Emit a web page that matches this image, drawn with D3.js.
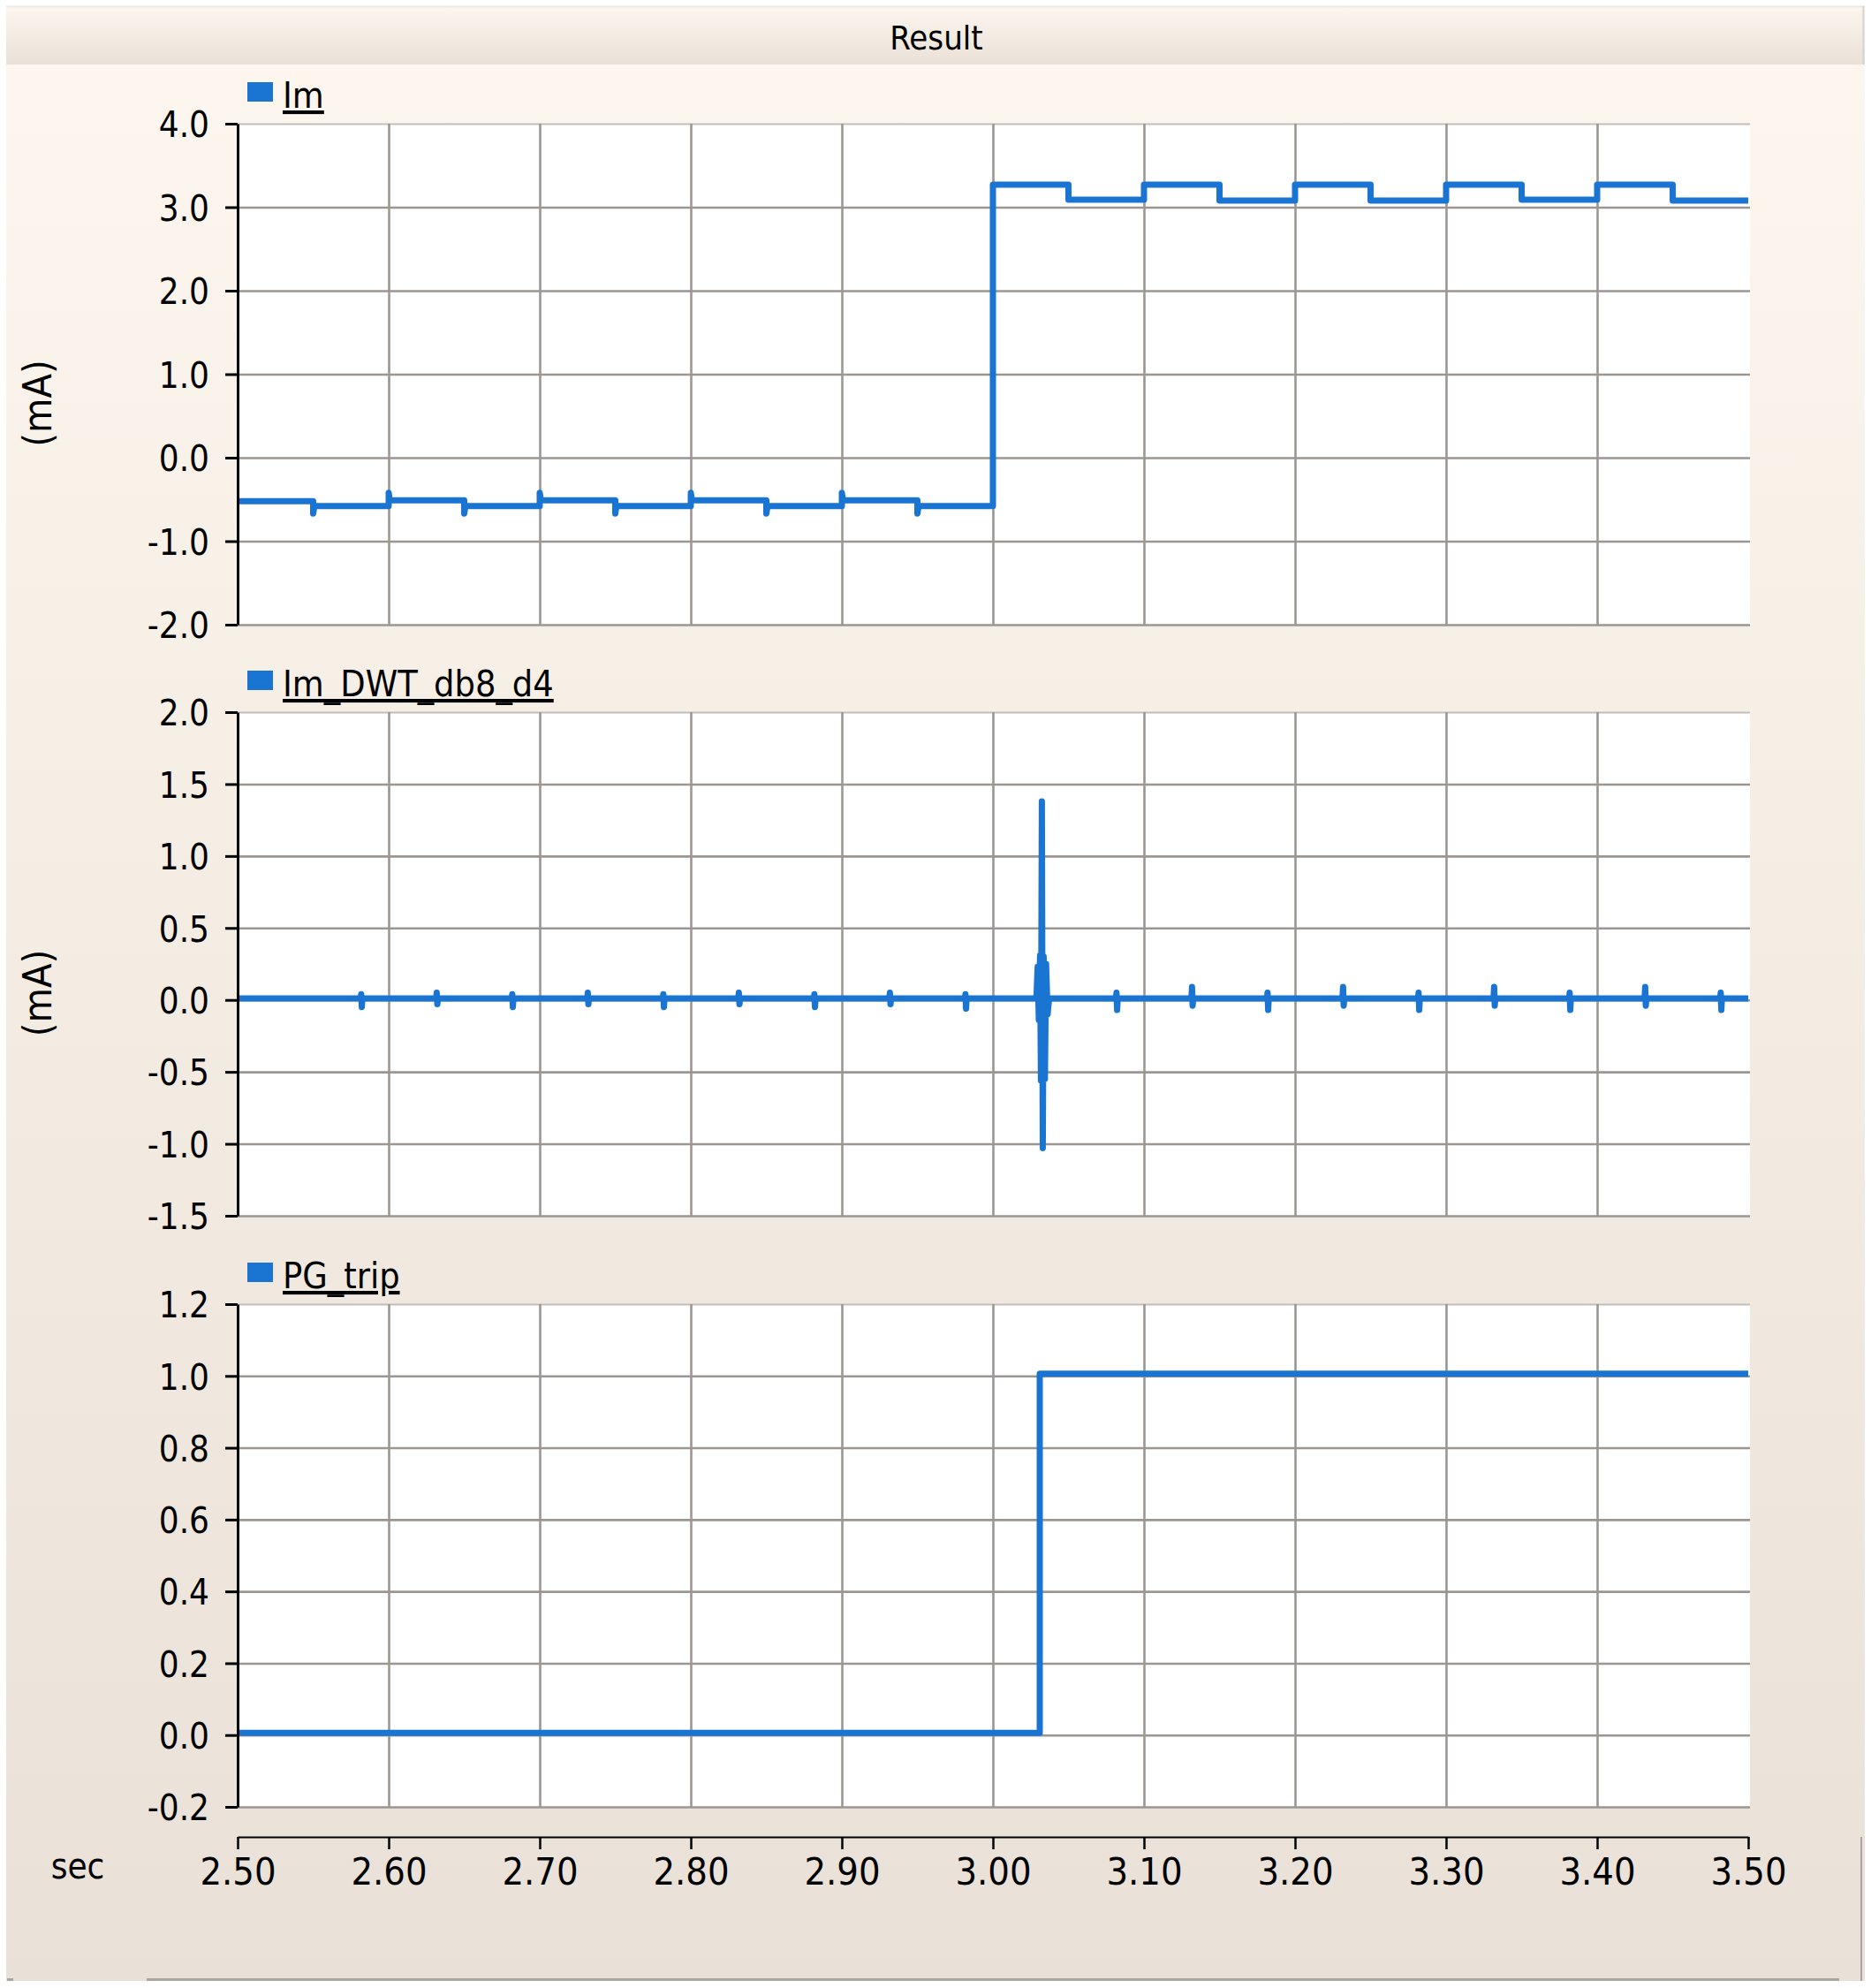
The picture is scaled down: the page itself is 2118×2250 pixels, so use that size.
<!DOCTYPE html>
<html>
<head>
<meta charset="utf-8">
<script src="https://cdn.jsdelivr.net/npm/d3@7"></script>
<style>
  html, body { margin: 0; padding: 0; background: #ffffff; }
  svg { display: block; }
  text { font-family: "DejaVu Sans", sans-serif; font-stretch: condensed; fill: #000; }
</style>
</head>
<body>
<svg id="chart" width="2118" height="2250"></svg>
<script>
// ---------------- DATA ----------------
const chartTitle = "Result";
const xUnit = "sec";
const timeTicks = [2.5, 2.6, 2.7, 2.8, 2.9, 3.0, 3.1, 3.2, 3.3, 3.4, 3.5];
const timeTickLabels = ["2.50","2.60","2.70","2.80","2.90","3.00","3.10","3.20","3.30","3.40","3.50"];

// Panel 1: Im (mA) - step signal
const imName = "Im";
const imTicks = [-2, -1, 0, 1, 2, 3, 4];
const imTickLabels = ["-2.0","-1.0","0.0","1.0","2.0","3.0","4.0"];
const imEdges = [2.50, 2.55, 2.60, 2.65, 2.70, 2.75, 2.80, 2.85, 2.90, 2.95, 3.00,
                 3.05, 3.10, 3.15, 3.20, 3.25, 3.30, 3.35, 3.40, 3.45, 3.50];
const imLevels = [-0.52, -0.58, -0.51, -0.58, -0.51, -0.58, -0.51, -0.58, -0.51, -0.58,
                  3.27, 3.09, 3.27, 3.08, 3.27, 3.08, 3.27, 3.09, 3.27, 3.08];
// overshoot value reached at each inner edge (null = none)
const imOvershoot = [-0.67, -0.42, -0.67, -0.42, -0.67, -0.42, -0.67, -0.42, -0.67, null,
                     null, null, null, null, null, null, null, null, null];

// Panel 2: Im_DWT_db8_d4 (mA)
const dwtName = "Im_DWT_db8_d4";
const dwtTicks = [-1.5, -1.0, -0.5, 0.0, 0.5, 1.0, 1.5, 2.0];
const dwtTickLabels = ["-1.5","-1.0","-0.5","0.0","0.5","1.0","1.5","2.0"];
const dwtBase = 0.01;
const dwtSpikeT = [2.582, 2.632, 2.682, 2.732, 2.782, 2.832, 2.882, 2.932, 2.982,
                   3.082, 3.132, 3.182, 3.232, 3.282, 3.332, 3.382, 3.432, 3.482];
const dwtSpikeUp = [0.04, 0.05, 0.04, 0.05, 0.04, 0.05, 0.04, 0.05, 0.04,
                    0.05, 0.09, 0.05, 0.09, 0.05, 0.09, 0.05, 0.09, 0.05];
const dwtSpikeDown = [-0.05, -0.03, -0.05, -0.03, -0.05, -0.03, -0.05, -0.03, -0.06,
                      -0.07, -0.04, -0.07, -0.04, -0.07, -0.04, -0.07, -0.04, -0.07];
const dwtBurstT = [3.0288, 3.0296, 3.0304, 3.0312, 3.0318, 3.0324, 3.0330, 3.0336, 3.0344, 3.0352, 3.0362, 3.0372];
const dwtBurstV = [0.01, 0.23, -0.14, 0.31, -0.56, 1.38, -1.03, 0.30, -0.55, 0.25, -0.10, 0.01];

// Panel 3: PG_trip
const tripName = "PG_trip";
const tripTicks = [-0.2, 0.0, 0.2, 0.4, 0.6, 0.8, 1.0, 1.2];
const tripTickLabels = ["-0.2","0.0","0.2","0.4","0.6","0.8","1.0","1.2"];
const tripT = [2.50, 3.031, 3.50];
const tripV = [0.006, 1.006, 1.006];

const yUnit = "(mA)";

// ---------------- LAYOUT ----------------
const W = 2118, H = 2250;
const plotL = 269, plotR = 1981;
const lineColor = "#1a75d2";
const gridColor = "#9b9692";
const panels = [
  { name: imName, top: 140, bottom: 707, domain: [-2, 4], ticks: imTicks, labels: imTickLabels, unit: yUnit },
  { name: dwtName, top: 806, bottom: 1376, domain: [-1.5, 2], ticks: dwtTicks, labels: dwtTickLabels, unit: yUnit },
  { name: tripName, top: 1476, bottom: 2045, domain: [-0.2, 1.2], ticks: tripTicks, labels: tripTickLabels, unit: null }
];

const svg = d3.select("#chart");
const defs = svg.append("defs");
const gBody = defs.append("linearGradient").attr("id", "bodyGrad").attr("x1", 0).attr("y1", 0).attr("x2", 0).attr("y2", 1);
gBody.append("stop").attr("offset", "0%").attr("stop-color", "#fdf6ee");
gBody.append("stop").attr("offset", "100%").attr("stop-color", "#e9e1d7");
const gTitle = defs.append("linearGradient").attr("id", "titleGrad").attr("x1", 0).attr("y1", 0).attr("x2", 0).attr("y2", 1);
gTitle.append("stop").attr("offset", "0%").attr("stop-color", "#fdf6ee");
gTitle.append("stop").attr("offset", "100%").attr("stop-color", "#e9e1d8");

// window background
svg.append("rect").attr("x", 0).attr("y", 0).attr("width", W).attr("height", H).attr("fill", "#ffffff");
svg.append("rect").attr("x", 7).attr("y", 73).attr("width", 2104).attr("height", 2169).attr("fill", "url(#bodyGrad)");
svg.append("rect").attr("x", 7).attr("y", 7).attr("width", 2104).attr("height", 66).attr("fill", "url(#titleGrad)");
svg.append("line").attr("x1", 7).attr("x2", 2111).attr("y1", 7.5).attr("y2", 7.5).attr("stroke", "#ece8e4").attr("stroke-width", 2);
svg.append("line").attr("x1", 2109.5).attr("x2", 2109.5).attr("y1", 7).attr("y2", 73).attr("stroke", "#d8d2cc").attr("stroke-width", 2);
svg.append("text").attr("x", 1060).attr("y", 56).attr("text-anchor", "middle").attr("font-size", 38).text(chartTitle);

// bottom frame lines
svg.append("line").attr("x1", 166).attr("x2", 2082).attr("y1", 2240.5).attr("y2", 2240.5).attr("stroke", "#aaa6a2").attr("stroke-width", 3);
svg.append("line").attr("x1", 8).attr("x2", 15).attr("y1", 2240.5).attr("y2", 2240.5).attr("stroke", "#aaa6a2").attr("stroke-width", 3);
svg.append("line").attr("x1", 2107).attr("x2", 2107).attr("y1", 2079).attr("y2", 2242).attr("stroke", "#aaa6a2").attr("stroke-width", 2);

const x = d3.scaleLinear().domain([2.5, 3.5]).range([plotL, 1979]);

// ---------------- SERIES BUILDERS ----------------
function imPoints() {
  const pts = [];
  for (let i = 0; i < imLevels.length; i++) {
    const t0 = imEdges[i], t1 = imEdges[i + 1];
    if (i > 0 && imOvershoot[i - 1] !== null) {
      pts.push([t0, imOvershoot[i - 1]]);
      pts.push([t0 + 0.0008, imLevels[i]]);
    } else {
      pts.push([t0, imLevels[i]]);
    }
    pts.push([t1, imLevels[i]]);
  }
  return pts;
}
function dwtPoints() {
  const pts = [[2.5, dwtBase]];
  const events = [];
  dwtSpikeT.forEach((t, i) => events.push({ t, pts: [[t - 0.0006, dwtBase], [t - 0.0002, dwtSpikeUp[i]], [t + 0.0002, dwtSpikeDown[i]], [t + 0.0006, dwtBase]] }));
  events.push({ t: dwtBurstT[0], pts: dwtBurstT.map((t, i) => [t, dwtBurstV[i]]) });
  events.sort((a, b) => a.t - b.t);
  events.forEach(e => e.pts.forEach(p => pts.push(p)));
  pts.push([3.5, dwtBase]);
  return pts;
}
function tripPoints() { return tripT.map((t, i) => [t, tripV[i]]); }

const seriesData = [imPoints(), dwtPoints(), tripPoints()];
const curves = [d3.curveLinear, d3.curveLinear, d3.curveStepAfter];

// ---------------- PANELS ----------------
panels.forEach((p, idx) => {
  const y = d3.scaleLinear().domain(p.domain).range([p.bottom, p.top]);
  const g = svg.append("g");

  // plot area
  g.append("rect").attr("x", plotL).attr("y", p.top).attr("width", plotR - plotL).attr("height", p.bottom - p.top).attr("fill", "#ffffff");

  // horizontal gridlines (all except top)
  const hGrid = g.append("g").attr("transform", `translate(${plotL},0)`)
    .call(d3.axisLeft(y).tickValues(p.ticks.filter(v => v !== p.domain[1])).tickSize(-(plotR - plotL)).tickFormat(""));
  hGrid.select(".domain").remove();
  hGrid.selectAll("line").attr("stroke", gridColor).attr("stroke-width", 2.6);

  // top border
  g.append("line").attr("x1", plotL).attr("x2", plotR).attr("y1", p.top + 0.5).attr("y2", p.top + 0.5).attr("stroke", "#c3beb9").attr("stroke-width", 2);

  // vertical gridlines
  const vGrid = g.append("g").attr("transform", `translate(0,${p.bottom})`)
    .call(d3.axisBottom(x).tickValues(timeTicks.filter(v => v > 2.5 && v < 3.5)).tickSize(-(p.bottom - p.top)).tickFormat(""));
  vGrid.select(".domain").remove();
  vGrid.selectAll("line").attr("stroke", gridColor).attr("stroke-width", 2.6);

  // data line
  const line = d3.line().x(d => x(d[0])).y(d => y(d[1])).curve(curves[idx]);
  g.append("path").datum(seriesData[idx])
    .attr("d", line).attr("fill", "none").attr("stroke", lineColor)
    .attr("stroke-width", 7).attr("stroke-linejoin", "round").attr("stroke-linecap", "butt");

  // y axis
  const yAxis = g.append("g").attr("transform", `translate(${plotL},0)`)
    .call(d3.axisLeft(y).tickValues(p.ticks).tickFormat(d => p.labels[p.ticks.indexOf(d)]).tickSize(14).tickSizeOuter(0).tickPadding(18));
  yAxis.select(".domain").attr("stroke", "#000").attr("stroke-width", 3);
  yAxis.selectAll(".tick line").attr("stroke", "#000").attr("stroke-width", 3);
  yAxis.selectAll(".tick text").attr("font-size", 40).attr("font-family", null).attr("fill", "#000").attr("dy", "0.37em");

  // legend
  g.append("rect").attr("x", 280).attr("y", p.top - 47).attr("width", 29).attr("height", 22).attr("fill", lineColor);
  g.append("text").attr("x", 320).attr("y", p.top - 18).attr("font-size", 41)
    .attr("text-decoration", "underline").text(p.name);

  // unit label
  if (p.unit) {
    g.append("text").attr("transform", `translate(58,${(p.top + p.bottom) / 2 + 33}) rotate(-90)`)
      .attr("text-anchor", "middle").attr("font-size", 45).text(p.unit);
  }
});

// ---------------- X AXIS ----------------
const xAxis = svg.append("g").attr("transform", "translate(0,2079)")
  .call(d3.axisBottom(x).tickValues(timeTicks).tickFormat((d, i) => timeTickLabels[i]).tickSize(14).tickSizeOuter(0));
xAxis.select(".domain").attr("stroke", "#000").attr("stroke-width", 2);
xAxis.selectAll(".tick line").attr("stroke", "#000").attr("stroke-width", 2.5);
xAxis.selectAll(".tick text").attr("font-size", 43).attr("font-family", null).attr("fill", "#000").attr("y", 54).attr("dy", 0);
svg.append("text").attr("x", 88).attr("y", 2126).attr("text-anchor", "middle").attr("font-size", 40).text(xUnit);
</script>
</body>
</html>
